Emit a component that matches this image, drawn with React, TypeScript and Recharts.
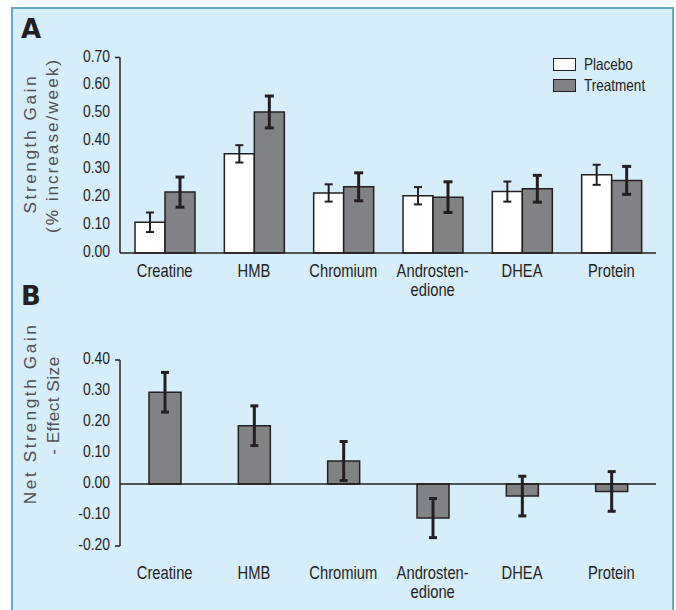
import React from 'react';
import { BarChart, Bar, XAxis, YAxis, ErrorBar, ReferenceLine, Legend } from 'recharts';

// Categories and values
const supplements = ['Creatine', 'HMB', 'Chromium', 'Androsten-\nedione', 'DHEA', 'Protein'];
const placebo = [0.11, 0.355, 0.215, 0.205, 0.22, 0.28];
const placeboErr = [0.035, 0.031, 0.031, 0.031, 0.036, 0.036];
const treatment = [0.218, 0.505, 0.237, 0.2, 0.23, 0.26];
const treatmentErr = [0.054, 0.057, 0.05, 0.055, 0.048, 0.05];
const effectSize = [0.296, 0.188, 0.074, -0.11, -0.039, -0.024];
const effectSizeErr = [0.064, 0.064, 0.063, 0.063, 0.064, 0.064];
const ticksA = [0, 0.1, 0.2, 0.3, 0.4, 0.5, 0.6, 0.7];
const ticksB = [-0.2, -0.1, 0, 0.1, 0.2, 0.3, 0.4];

const dataA = supplements.map((s, i) => ({
  name: s,
  placebo: placebo[i],
  placeboErr: placeboErr[i],
  treatment: treatment[i],
  treatmentErr: treatmentErr[i],
}));
const dataB = supplements.map((s, i) => ({ name: s, effect: effectSize[i], effectErr: effectSizeErr[i] }));

const INK = '#231f20';
const GREY = '#808285';
const TITLE = '#4f5052';
const SANS = '"Liberation Sans", Arial, sans-serif';
const NARROW_X = 0.82; // squeeze Liberation Sans to look like a condensed face

const YTick = ({ x, y, payload, ends }: any) => {
  const axisX = x + 10; // tickSize 6 + tickMargin 4
  const showEnd = ends && ends.includes(payload.value);
  return (
    <g>
      {showEnd && <line x1={axisX - 5} x2={axisX} y1={y} y2={y} stroke={INK} strokeWidth={1.5} />}
      <text
        transform={`translate(${x}, ${y + 4}) scale(${NARROW_X}, 1)`}
        textAnchor="end"
        fill={INK}
        fontSize={17}
        fontFamily={SANS}
      >
        {Number(payload.value).toFixed(2)}
      </text>
    </g>
  );
};

const CatTick = ({ x, y, payload, firstDy }: any) => {
  const lines = String(payload.value).split('\n');
  return (
    <text
      transform={`translate(${x}, ${y}) scale(${NARROW_X}, 1)`}
      textAnchor="middle"
      fill={INK}
      fontSize={18}
      fontFamily={SANS}
    >
      {lines.map((l, i) => (
        <tspan key={i} x={0} dy={i === 0 ? firstDy : 19.5}>{l}</tspan>
      ))}
    </text>
  );
};

const AxisTitle = ({ lines }: any) => (
  <g>
    {lines.map((l: any, i: number) => (
      <text
        key={i}
        transform={`translate(${l.x}, ${l.y}) rotate(-90)`}
        textAnchor="middle"
        fill={TITLE}
        fontSize={17.2}
        textLength={l.len}
        lengthAdjust="spacing"
        fontFamily={SANS}
      >
        {l.text}
      </text>
    ))}
  </g>
);

const LegendBoxes = ({ payload }: any) => (
  <div style={{ display: 'flex', flexDirection: 'column' }}>
    {(payload || []).map((e: any) => (
      <div key={e.value} style={{ display: 'flex', alignItems: 'center', height: 21 }}>
        <span
          style={{
            display: 'inline-block',
            width: 23,
            height: 12.5,
            boxSizing: 'border-box',
            border: `1.5px solid ${INK}`,
            background: e.color,
          }}
        />
        <span
          style={{
            display: 'inline-block',
            marginLeft: 8,
            fontFamily: SANS,
            fontSize: 16.5,
            color: INK,
            whiteSpace: 'nowrap',
            transform: `scaleX(${NARROW_X})`,
            transformOrigin: 'left center',
          }}
        >
          {e.value}
        </span>
      </div>
    ))}
  </div>
);

const Panel = ({ letter, top }: { letter: string; top: number }) => (
  <div
    style={{
      position: 'absolute',
      left: 21,
      top,
      fontFamily: '"DejaVu Sans", sans-serif',
      fontWeight: 900,
      fontSize: 26,
      lineHeight: '26px',
      color: INK,
    }}
  >
    {letter}
  </div>
);

export default function App() {
  return (
    <div style={{ position: 'absolute', left: 0, top: 0, width: 676, height: 610, background: '#fff', overflow: 'hidden' }}>
      <div
        style={{
          position: 'absolute',
          left: 11,
          top: 7,
          width: 663,
          height: 610,
          boxSizing: 'border-box',
          border: '2.5px solid #62a8c8',
          borderBottom: 'none',
          background: '#d6edfa',
        }}
      />
      <Panel letter="A" top={16} />
      <Panel letter="B" top={283} />

      <div style={{ position: 'absolute', left: 0, top: 0 }}>
        <BarChart width={676} height={300} data={dataA} barGap={0} margin={{ top: 57.5, right: 20, bottom: 17, left: 0 }}>
          <XAxis
            dataKey="name"
            interval={0}
            height={30}
            tickLine={false}
            axisLine={{ stroke: INK, strokeWidth: 1.5 }}
            tick={<CatTick firstDy={16} />}
          />
          <YAxis
            width={120}
            domain={[0, 0.7]}
            ticks={ticksA}
            tickLine={false}
            tickMargin={4}
            axisLine={{ stroke: INK, strokeWidth: 1.5 }}
            tick={<YTick ends={[0.7]} />}
            label={{
              content: () => (
                <AxisTitle
                  lines={[
                    { text: 'Strength Gain', x: 35.7, y: 145, len: 137 },
                    { text: '(% increase/week)', x: 58.3, y: 146.5, len: 173 },
                  ]}
                />
              ),
            }}
          />
          <Legend
            layout="vertical"
            align="center"
            verticalAlign="middle"
            wrapperStyle={{ top: 54, left: 553, width: 110 }}
            content={<LegendBoxes />}
          />
          <Bar dataKey="placebo" name="Placebo" fill="#ffffff" stroke={INK} strokeWidth={1.5} barSize={30} isAnimationActive={false}>
            <ErrorBar dataKey="placeboErr" width={4} stroke={INK} strokeWidth={2} />
          </Bar>
          <Bar dataKey="treatment" name="Treatment" fill={GREY} stroke={INK} strokeWidth={1.5} barSize={30} isAnimationActive={false}>
            <ErrorBar dataKey="treatmentErr" width={4.5} stroke={INK} strokeWidth={3} />
          </Bar>
        </BarChart>
      </div>

      <div style={{ position: 'absolute', left: 0, top: 300 }}>
        <BarChart width={676} height={310} data={dataB} margin={{ top: 60, right: 20, bottom: 34, left: 0 }}>
          <XAxis
            dataKey="name"
            interval={0}
            height={30}
            tickLine={false}
            axisLine={false}
            tick={<CatTick firstDy={25} />}
          />
          <YAxis
            width={120}
            domain={[-0.2, 0.4]}
            ticks={ticksB}
            tickLine={false}
            tickMargin={4}
            axisLine={{ stroke: INK, strokeWidth: 1.5 }}
            tick={<YTick ends={[0.4, -0.2]} />}
            label={{
              content: () => (
                <AxisTitle
                  lines={[
                    { text: 'Net Strength Gain', x: 35.7, y: 114.7, len: 179 },
                    { text: '- Effect Size', x: 59, y: 105.8, len: 98 },
                  ]}
                />
              ),
            }}
          />
          <ReferenceLine y={0} stroke={INK} strokeWidth={1.5} />
          <Bar dataKey="effect" fill={GREY} stroke={INK} strokeWidth={1.5} barSize={32} isAnimationActive={false}>
            <ErrorBar dataKey="effectErr" width={4} stroke={INK} strokeWidth={3} />
          </Bar>
        </BarChart>
      </div>
    </div>
  );
}
